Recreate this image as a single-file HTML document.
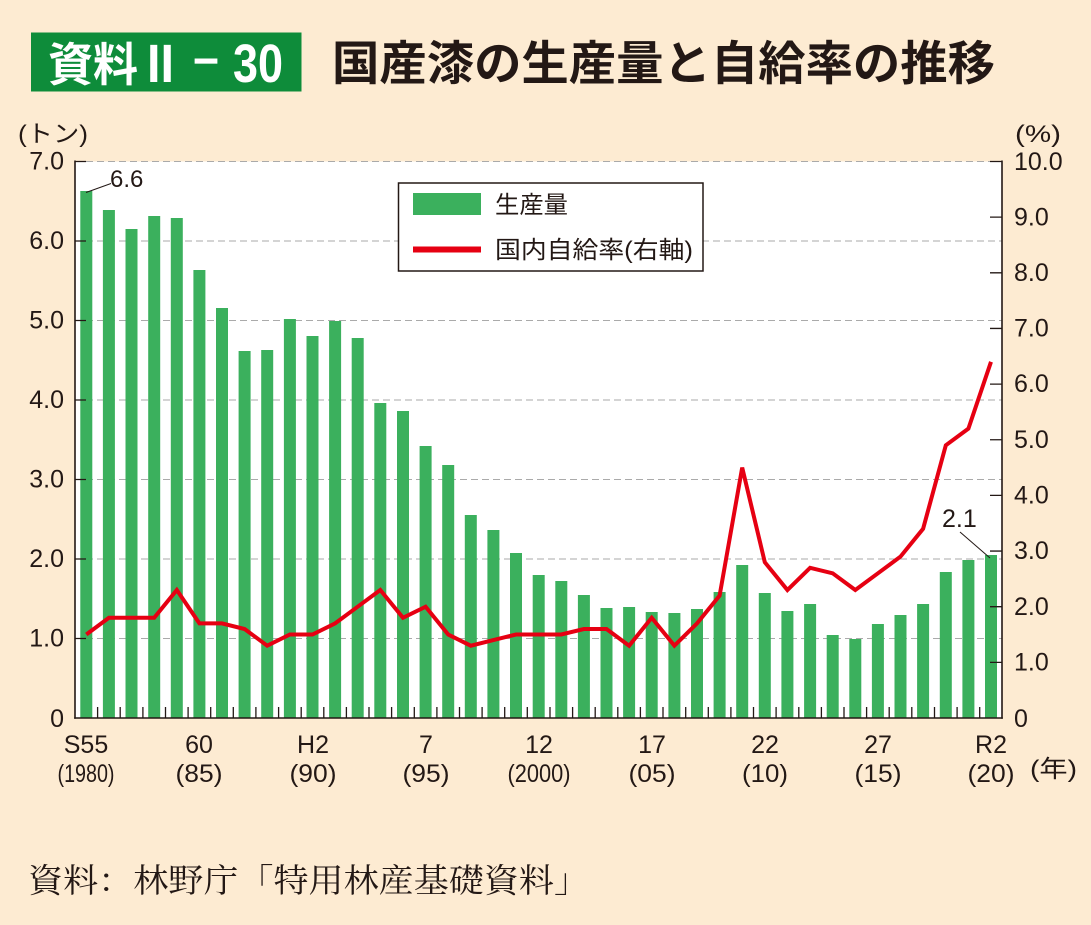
<!DOCTYPE html>
<html><head><meta charset="utf-8"><style>
html,body{margin:0;padding:0;background:#fdebd2;}
svg{display:block;}
text{fill:#231815;}
</style></head><body>
<svg width="1091" height="925" viewBox="0 0 1091 925" xmlns="http://www.w3.org/2000/svg" font-family="'Liberation Sans','Noto Sans CJK JP',sans-serif">
<rect x="0" y="0" width="1091" height="925" fill="#fdebd2"/>
<rect x="31" y="32.5" width="270.5" height="59" fill="#0e8c3a"/>
<text x="48" y="81" font-size="46" font-weight="bold" style="fill:#fff" textLength="90" lengthAdjust="spacingAndGlyphs">資料</text>
<text x="147" y="82" font-size="54" font-weight="bold" style="fill:#fff" textLength="27" lengthAdjust="spacingAndGlyphs">II</text>
<text x="190" y="80" font-size="50" font-weight="bold" style="fill:#fff" textLength="32" lengthAdjust="spacingAndGlyphs">－</text>
<text x="233" y="82" font-size="54" font-weight="bold" style="fill:#fff" textLength="50" lengthAdjust="spacingAndGlyphs">30</text>
<text x="332" y="80" font-size="47" font-weight="bold" textLength="663" lengthAdjust="spacingAndGlyphs">国産漆の生産量と自給率の推移</text>
<text x="18" y="142" font-size="24" textLength="70" lengthAdjust="spacingAndGlyphs">(トン)</text>
<text x="1015" y="142" font-size="24" textLength="46" lengthAdjust="spacingAndGlyphs">(%)</text>
<rect x="75" y="161.5" width="927" height="556.5" fill="#ffffff"/>
<g stroke="#aaaaaa" stroke-width="1" stroke-dasharray="7 4" fill="none">
<line x1="75" y1="161.5" x2="1002" y2="161.5"/>
<line x1="75" y1="241" x2="1002" y2="241"/>
<line x1="75" y1="320.5" x2="1002" y2="320.5"/>
<line x1="75" y1="400" x2="1002" y2="400"/>
<line x1="75" y1="479.5" x2="1002" y2="479.5"/>
<line x1="75" y1="559" x2="1002" y2="559"/>
<line x1="75" y1="638.5" x2="1002" y2="638.5"/>
</g>
<g fill="#3bb05d">
<rect x="80.3" y="191" width="12" height="527"/>
<rect x="102.9" y="210" width="12" height="508"/>
<rect x="125.5" y="229" width="12" height="489"/>
<rect x="148.2" y="216" width="12" height="502"/>
<rect x="170.8" y="218" width="12" height="500"/>
<rect x="193.4" y="270" width="12" height="448"/>
<rect x="216.0" y="308" width="12" height="410"/>
<rect x="238.6" y="351" width="12" height="367"/>
<rect x="261.2" y="350" width="12" height="368"/>
<rect x="283.9" y="319" width="12" height="399"/>
<rect x="306.5" y="336" width="12" height="382"/>
<rect x="329.1" y="321" width="12" height="397"/>
<rect x="351.7" y="338" width="12" height="380"/>
<rect x="374.3" y="403" width="12" height="315"/>
<rect x="397.0" y="411" width="12" height="307"/>
<rect x="419.6" y="446" width="12" height="272"/>
<rect x="442.2" y="465" width="12" height="253"/>
<rect x="464.8" y="515" width="12" height="203"/>
<rect x="487.4" y="530" width="12" height="188"/>
<rect x="510.0" y="553" width="12" height="165"/>
<rect x="532.7" y="575" width="12" height="143"/>
<rect x="555.3" y="581" width="12" height="137"/>
<rect x="577.9" y="595" width="12" height="123"/>
<rect x="600.5" y="608" width="12" height="110"/>
<rect x="623.1" y="607" width="12" height="111"/>
<rect x="645.7" y="612" width="12" height="106"/>
<rect x="668.4" y="613" width="12" height="105"/>
<rect x="691.0" y="609" width="12" height="109"/>
<rect x="713.6" y="592" width="12" height="126"/>
<rect x="736.2" y="565" width="12" height="153"/>
<rect x="758.8" y="593" width="12" height="125"/>
<rect x="781.4" y="611" width="12" height="107"/>
<rect x="804.1" y="604" width="12" height="114"/>
<rect x="826.7" y="635" width="12" height="83"/>
<rect x="849.3" y="639" width="12" height="79"/>
<rect x="871.9" y="624" width="12" height="94"/>
<rect x="894.5" y="615" width="12" height="103"/>
<rect x="917.1" y="604" width="12" height="114"/>
<rect x="939.8" y="572" width="12" height="146"/>
<rect x="962.4" y="560" width="12" height="158"/>
<rect x="985.0" y="555" width="12" height="163"/>
</g>
<polyline fill="none" stroke="#e60012" stroke-width="4" stroke-linejoin="miter" stroke-miterlimit="3" points="86.3,634.5 108.9,617.8 131.5,617.8 154.2,617.8 176.8,590.0 199.4,623.4 222.0,623.4 244.6,629.0 267.2,645.7 289.9,634.5 312.5,634.5 335.1,623.4 357.7,606.7 380.3,590.0 403.0,617.8 425.6,606.7 448.2,634.5 470.8,645.7 493.4,640.1 516.0,634.5 538.7,634.5 561.3,634.5 583.9,629.0 606.5,629.0 629.1,645.7 651.7,617.8 674.4,645.7 697.0,623.4 719.6,595.6 742.2,467.6 764.8,562.2 787.4,590.0 810.1,567.8 832.7,573.3 855.3,590.0 877.9,573.3 900.5,556.6 923.1,528.8 945.8,445.3 968.4,428.6 991.0,361.8"/>
<g stroke="#231815" stroke-width="1.6" fill="none">
<line x1="75" y1="160.5" x2="75" y2="718.8"/>
<line x1="1002" y1="160.5" x2="1002" y2="718.8"/>
<line x1="74.2" y1="718" x2="1002.8" y2="718"/>
</g>
<g stroke="#231815" stroke-width="1.3" fill="none">
<path d="M75 161.5H86M75 241H86M75 320.5H86M75 400H86M75 479.5H86M75 559H86M75 638.5H86"/>
<path d="M1002 161.5H990M1002 217.15H990M1002 272.8H990M1002 328.45H990M1002 384.1H990M1002 439.75H990M1002 495.4H990M1002 551.05H990M1002 606.7H990M1002 662.35H990"/>
<path d="M97.6 718V707M120.2 718V707M142.9 718V707M165.5 718V707M188.1 718V707M210.7 718V707M233.3 718V707M255.9 718V707M278.6 718V707M301.2 718V707M323.8 718V707M346.4 718V707M369.0 718V707M391.6 718V707M414.3 718V707M436.9 718V707M459.5 718V707M482.1 718V707M504.7 718V707M527.3 718V707M550.0 718V707M572.6 718V707M595.2 718V707M617.8 718V707M640.4 718V707M663.0 718V707M685.7 718V707M708.3 718V707M730.9 718V707M753.5 718V707M776.1 718V707M798.8 718V707M821.4 718V707M844.0 718V707M866.6 718V707M889.2 718V707M911.8 718V707M934.5 718V707M957.1 718V707M979.7 718V707"/>
</g>
<g font-size="25" text-anchor="end">
<text x="64" y="169.5">7.0</text>
<text x="64" y="249">6.0</text>
<text x="64" y="328.5">5.0</text>
<text x="64" y="408">4.0</text>
<text x="64" y="487.5">3.0</text>
<text x="64" y="567">2.0</text>
<text x="64" y="646.5">1.0</text>
<text x="64" y="727">0</text>
</g>
<g font-size="25">
<text x="1014" y="170">10.0</text>
<text x="1014" y="225.5">9.0</text>
<text x="1014" y="281">8.0</text>
<text x="1014" y="336.5">7.0</text>
<text x="1014" y="392">6.0</text>
<text x="1014" y="448">5.0</text>
<text x="1014" y="503.5">4.0</text>
<text x="1014" y="559">3.0</text>
<text x="1014" y="615">2.0</text>
<text x="1014" y="670.5">1.0</text>
<text x="1014" y="727">0</text>
</g>
<g font-size="25" text-anchor="middle">
<text x="86" y="753">S55</text>
<text x="199" y="753">60</text>
<text x="313" y="753">H2</text>
<text x="426" y="753">7</text>
<text x="539" y="753">12</text>
<text x="652" y="753">17</text>
<text x="765" y="753">22</text>
<text x="878" y="753">27</text>
<text x="991" y="753">R2</text>
</g>
<g font-size="25" text-anchor="middle">
<text x="86" y="782" textLength="57" lengthAdjust="spacingAndGlyphs">(1980)</text>
<text x="199" y="782" textLength="47" lengthAdjust="spacingAndGlyphs">(85)</text>
<text x="313" y="782" textLength="47" lengthAdjust="spacingAndGlyphs">(90)</text>
<text x="426" y="782" textLength="47" lengthAdjust="spacingAndGlyphs">(95)</text>
<text x="539" y="782" textLength="63" lengthAdjust="spacingAndGlyphs">(2000)</text>
<text x="652" y="782" textLength="47" lengthAdjust="spacingAndGlyphs">(05)</text>
<text x="765" y="782" textLength="46" lengthAdjust="spacingAndGlyphs">(10)</text>
<text x="878" y="782" textLength="47" lengthAdjust="spacingAndGlyphs">(15)</text>
<text x="991" y="782" textLength="47" lengthAdjust="spacingAndGlyphs">(20)</text>
</g>
<text x="1030" y="777" font-size="24" textLength="47" lengthAdjust="spacingAndGlyphs">(年)</text>
<line x1="86" y1="192.5" x2="111" y2="183.5" stroke="#231815" stroke-width="1"/>
<text x="110" y="187" font-size="24">6.6</text>
<line x1="960" y1="532" x2="990" y2="558" stroke="#231815" stroke-width="1"/>
<text x="942" y="527" font-size="25">2.1</text>
<rect x="398.5" y="183" width="304.5" height="88" fill="#ffffff" stroke="#231815" stroke-width="1.5"/>
<rect x="413" y="193" width="68" height="22" fill="#3bb05d"/>
<line x1="413" y1="249.5" x2="481" y2="249.5" stroke="#e60012" stroke-width="6"/>
<text x="495" y="213" font-size="24" textLength="73" lengthAdjust="spacingAndGlyphs">生産量</text>
<text x="495" y="258" font-size="24" textLength="198" lengthAdjust="spacingAndGlyphs">国内自給率(右軸)</text>
<text x="28" y="892" font-size="33" font-family="'Liberation Serif','Noto Serif CJK SC',serif" textLength="561" lengthAdjust="spacingAndGlyphs">資料：林野庁「特用林産基礎資料」</text>
</svg>
</body></html>
